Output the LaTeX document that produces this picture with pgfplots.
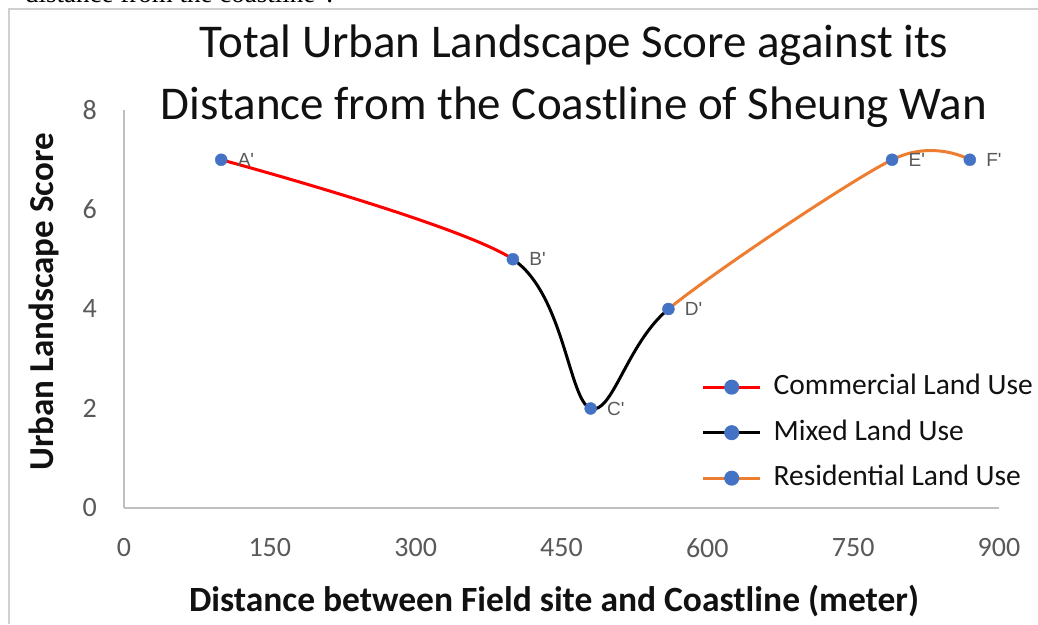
\documentclass[border=0pt]{standalone}
\usepackage{pgfplots}
\pgfplotsset{compat=1.18}
\usepackage{pgfplotstable}
\usepackage{fontspec}
\setmainfont{Carlito}
\newfontfamily\seriffont{Liberation Serif}
\newfontfamily\labfont{Liberation Sans}
\definecolor{mblue}{HTML}{4472C4}
\definecolor{morange}{HTML}{ED7D31}
\definecolor{tgray}{HTML}{595959}
\definecolor{agray}{HTML}{BFBFBF}
\definecolor{fgray}{HTML}{D0D0D0}
\definecolor{ttext}{HTML}{111111}

\pgfplotstableread{
x y label
100 7 A\textquotesingle
400 5 B\textquotesingle
480 2 C\textquotesingle
560 4 D\textquotesingle
790 7 E\textquotesingle
870 7 F\textquotesingle
}\scoredata

\begin{document}
\begin{tikzpicture}[x=1pt,y=1pt]
\useasboundingbox (0,0) rectangle (1038,624);
\clip (0,0) rectangle (1038,624);
% page fragment above the chart
\node[anchor=base west, inner sep=0pt, font=\seriffont\fontsize{27}{27}\selectfont] at (25,621) {distance from the coastline".};
% chart frame
\draw[fgray, line width=1.2pt] (9,0) -- (9,615) -- (1040,615);

\begin{axis}[
  at={(124pt,116pt)}, anchor=south west,
  scale only axis, width=875pt, height=398pt,
  xmin=0, xmax=900, ymin=0, ymax=8,
  xtick={0,150,...,900}, ytick={0,2,...,8},
  axis x line=bottom, axis y line=left,
  axis line style={-, agray, line width=1.2pt},
  major tick length=0pt,
  tick label style={font=\fontsize{28}{28}\selectfont, text=tgray, inner sep=0pt},
  /pgf/number format/assume math mode=true,
  yticklabel style={anchor=east, xshift=-27pt},
  xticklabel style={anchor=north, yshift=-30pt},
  clip=false,
  legend style={draw=none, fill=none, at={(0.660,0.338)}, anchor=north west,
    font=\fontsize{29.5}{29.5}\selectfont, text=ttext, row sep=18.5pt,
    legend cell align=left, inner sep=0pt,
    nodes={inner sep=0pt, text height=21pt, text depth=6pt}},
  legend image code/.code={
    \draw[#1, mark=none] (0pt,0pt) -- (57pt,0pt);
    \fill[mblue] (28.5pt,0pt) circle (6pt);
  },
]
\addlegendimage{red, line width=3pt}
\addlegendentry{\hspace{12pt}Commercial Land Use}
\addlegendimage{black, line width=3pt}
\addlegendentry{\hspace{12pt}Mixed Land Use}
\addlegendimage{morange, line width=3pt}
\addlegendentry{\hspace{12pt}Residential Land Use}

\begin{scope}
\clip (axis cs:0,0) rectangle (axis cs:400,9);
\addplot[red, line width=3pt, smooth, forget plot] table[x=x,y=y] {\scoredata};
\end{scope}
\begin{scope}
\clip (axis cs:400,0) rectangle (axis cs:560,9);
\addplot[black, line width=3pt, smooth, forget plot] table[x=x,y=y] {\scoredata};
\end{scope}
\begin{scope}
\clip (axis cs:560,0) rectangle (axis cs:900,9);
\addplot[morange, line width=3pt, smooth, forget plot] table[x=x,y=y] {\scoredata};
\end{scope}

\addplot[only marks, mark=*, mark size=6pt, mblue, forget plot,
  point meta=explicit symbolic, nodes near coords,
  nodes near coords style={anchor=west, xshift=13pt, text=tgray,
    font=\labfont\fontsize{19}{19}\selectfont},
  ] table[x=x,y=y,meta=label] {\scoredata};
\end{axis}

\node[font=\fontsize{47}{47}\selectfont, text=ttext] at (574,579) {Total Urban Landscape Score against its};
\node[font=\fontsize{47}{47}\selectfont, text=ttext] at (574,517) {Distance from the Coastline of Sheung Wan};
\node[font=\bfseries\fontsize{35}{35}\selectfont, text=ttext, rotate=90] at (44,322) {Urban Landscape Score};
\node[font=\bfseries\fontsize{35.5}{35.5}\selectfont, text=ttext] at (554,23) {Distance between Field site and Coastline (meter)};
\end{tikzpicture}
\end{document}
